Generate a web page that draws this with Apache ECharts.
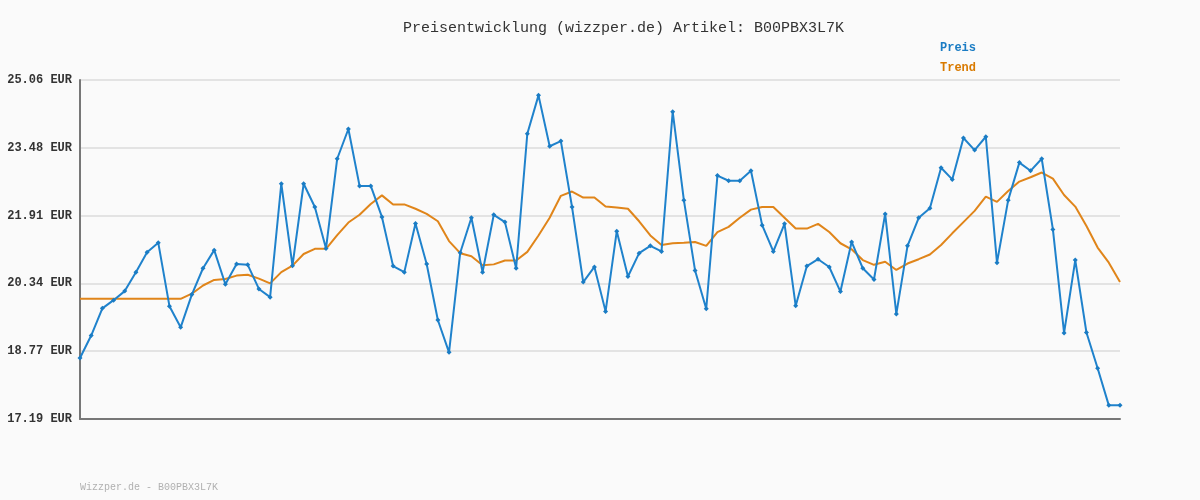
<!DOCTYPE html>
<html>
<head>
<meta charset="utf-8">
<script src="https://cdn.jsdelivr.net/npm/echarts@6/dist/echarts.min.js"></script>
<style>
html,body{margin:0;padding:0;background:#fafafa;}
#chart{width:1200px;height:500px;}
</style>
</head>
<body>
<div id="chart"></div>
<script>
const titleText = 'Preisentwicklung (wizzper.de) Artikel: B00PBX3L7K';
const footerText = 'Wizzper.de - B00PBX3L7K';
const seriesNames = ['Preis', 'Trend'];

const preis = [
  18.61, 19.13, 19.76, 19.95, 20.16, 20.60, 21.06, 21.28, 19.81, 19.32,
  20.08, 20.69, 21.11, 20.32, 20.79, 20.77, 20.21, 20.02, 22.65, 20.75,
  22.65, 22.11, 21.15, 23.23, 23.92, 22.60, 22.60, 21.88, 20.74, 20.60,
  21.73, 20.79, 19.49, 18.74, 21.05, 21.86, 20.60, 21.93, 21.76, 20.69,
  23.81, 24.70, 23.52, 23.64, 22.11, 20.37, 20.72, 19.69, 21.55, 20.50,
  21.04, 21.21, 21.08, 24.32, 22.27, 20.64, 19.75, 22.84, 22.72, 22.72,
  22.95, 21.69, 21.08, 21.72, 19.82, 20.74, 20.90, 20.72, 20.15, 21.30,
  20.69, 20.43, 21.95, 19.63, 21.21, 21.86, 22.08, 23.02, 22.75, 23.71,
  23.43, 23.74, 20.82, 22.27, 23.14, 22.95, 23.23, 21.59, 19.19, 20.88,
  19.20, 18.37, 17.51, 17.51
];

const trend = [
  19.98, 19.98, 19.98, 19.98, 19.98, 19.98, 19.98, 19.98, 19.98, 19.98,
  20.10, 20.29, 20.42, 20.44, 20.52, 20.54, 20.45, 20.34, 20.60, 20.75,
  21.02, 21.14, 21.14, 21.46, 21.75, 21.93, 22.18, 22.38, 22.17, 22.17,
  22.07, 21.95, 21.78, 21.32, 21.04, 20.97, 20.76, 20.78, 20.87, 20.87,
  21.07, 21.45, 21.86, 22.37, 22.47, 22.33, 22.33, 22.12, 22.10, 22.07,
  21.78, 21.45, 21.23, 21.27, 21.28, 21.30, 21.21, 21.53, 21.65, 21.86,
  22.05, 22.11, 22.11, 21.86, 21.61, 21.61, 21.72, 21.53, 21.27, 21.13,
  20.88, 20.77, 20.84, 20.65, 20.80, 20.90, 21.01, 21.23, 21.50, 21.76,
  22.02, 22.35, 22.23, 22.48, 22.70, 22.80, 22.91, 22.77, 22.39, 22.12,
  21.67, 21.17, 20.82, 20.37
];

const categories = preis.map((_, i) => String(i + 1));

const yMin = 17.194;
const yMax = 25.056;
const yStep = 1.5724;

const chart = echarts.init(document.getElementById('chart'));
chart.setOption({
  backgroundColor: '#fafafa',
  animation: false,
  title: {
    text: titleText,
    left: 398,
    top: 16,
    textStyle: { fontFamily: 'Liberation Mono', fontSize: 15, fontWeight: 'normal', color: '#333' }
  },
  legend: {
    orient: 'vertical',
    left: 935,
    top: 37,
    itemWidth: 0,
    itemHeight: 0,
    itemGap: 8,
    selectedMode: false,
    data: [
      { name: seriesNames[0], icon: 'none', textStyle: { color: '#1a7cc4' } },
      { name: seriesNames[1], icon: 'none', textStyle: { color: '#d97a00' } }
    ],
    textStyle: { fontFamily: 'Liberation Mono', fontSize: 12, fontWeight: 'bold', padding: [0, 0, 0, -5] }
  },
  graphic: [{
    type: 'text',
    left: 80,
    top: 482,
    style: { text: footerText, fill: '#b0b0b0', font: '10px "Liberation Mono"' }
  }],
  grid: { left: 80, right: 80, top: 80, bottom: 81 },
  xAxis: {
    type: 'category',
    data: categories,
    boundaryGap: false,
    axisLine: { lineStyle: { color: '#777', width: 2 } },
    axisTick: { show: false },
    axisLabel: { show: false },
    splitLine: { show: false }
  },
  yAxis: {
    type: 'value',
    min: yMin,
    max: yMax,
    interval: yStep,
    axisLine: { show: true, lineStyle: { color: '#777', width: 2 } },
    axisTick: { show: false },
    axisLabel: {
      formatter: v => v.toFixed(2) + ' EUR',
      fontFamily: 'Liberation Mono',
      fontSize: 12,
      fontWeight: 'bold',
      color: '#333',
      margin: 8
    },
    splitLine: { lineStyle: { color: '#e3e3e3', width: 2 } }
  },
  series: [
    {
      name: seriesNames[0],
      type: 'line',
      data: preis,
      symbol: 'diamond',
      symbolSize: 5,
      showSymbol: true,
      lineStyle: { color: '#1f82cc', width: 2 },
      itemStyle: { color: '#1a7cc4' },
      z: 3
    },
    {
      name: seriesNames[1],
      type: 'line',
      data: trend,
      symbol: 'none',
      lineStyle: { color: '#e0851a', width: 2 },
      itemStyle: { color: '#d97a00' },
      z: 2
    }
  ]
});
</script>
</body>
</html>
